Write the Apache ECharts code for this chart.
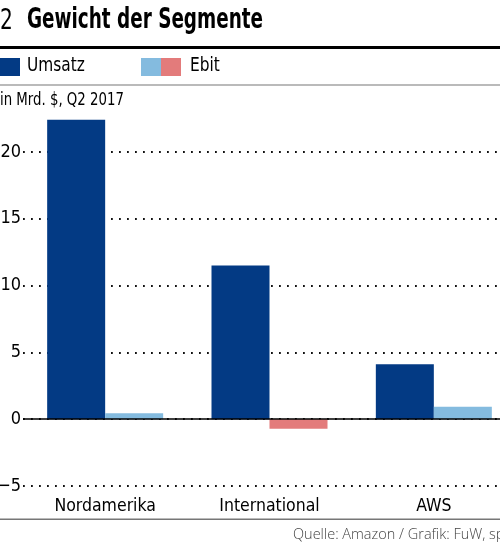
<!DOCTYPE html>
<html>
<head>
<meta charset="utf-8">
<script src="https://cdn.jsdelivr.net/npm/echarts@6/dist/echarts.min.js"></script>
<style>
    html, body { margin: 0; padding: 0; background: #fff; }
    #chart { width: 500px; height: 554px; }
</style>
</head>
<body>
<div id="chart"></div>
<script>
// Segmente, Q2 2017, in Mrd. $
var categories = ['Nordamerika', 'International', 'AWS'];
var umsatz = [22.4, 11.5, 4.1];
var ebit = [0.44, -0.72, 0.92];
var yTicks = [-5, 0, 5, 10, 15, 20];

var narrow = '"Liberation Sans Narrow", "DejaVu Sans Condensed", sans-serif';
var blue = '#033a84',
    lightBlue = '#84bbdf',
    red = '#e37b7b';

var chart = echarts.init(document.getElementById('chart'));

var ebitData = ebit.map(function (v) {
    return {
        value: v,
        itemStyle: { color: v < 0 ? red : lightBlue }
    };
});

chart.setOption({
    animation: false,
    grid: {
        left: 23,
        right: -16,
        top: 85,
        bottom: 68,
        containLabel: false,
        outerBoundsMode: 'none'
    },
    xAxis: {
        type: 'category',
        data: categories,
        axisLine: { show: false, onZero: false },
        axisTick: { show: false },
        axisLabel: {
            color: '#000',
            fontFamily: narrow,
            fontSize: 17.5,
            margin: 11
        }
    },
    yAxis: {
        type: 'value',
        min: yTicks[0],
        max: 25,
        interval: 5,
        axisLine: { show: false },
        axisTick: { show: false },
        axisLabel: {
            color: '#000',
            fontFamily: narrow,
            fontSize: 18,
            margin: 2,
            formatter: function (v) {
                if (yTicks.indexOf(v) < 0) return '';
                return String(v).replace('-', '\u2212');
            }
        },
        splitLine: {
            lineStyle: {
                color: '#111',
                width: 1.8,
                type: [1.8, 6.2]
            }
        }
    },
    series: [{
        name: 'Umsatz',
        type: 'bar',
        data: umsatz,
        barWidth: 58,
        barGap: '0%',
        itemStyle: { color: blue },
        markLine: {
            silent: true,
            symbol: 'none',
            label: { show: false },
            lineStyle: { color: '#000', type: 'solid', width: 1.5 },
            data: [{ yAxis: 0 }]
        }
    }, {
        name: 'Ebit',
        type: 'bar',
        data: ebitData,
        barWidth: 58,
        barGap: '0%'
    }],
    graphic: [
        // Titel
        {
            type: 'text', x: 0, y: 8, scaleX: 0.8,
            style: { text: '2', font: '28px ' + narrow, fill: '#000' }
        },
        {
            type: 'text', x: 27, y: 7, scaleX: 0.73,
            style: { text: 'Gewicht der Segmente', font: 'bold 28px ' + narrow, fill: '#000' }
        },
        {
            type: 'rect', shape: { x: 0, y: 46, width: 500, height: 3 },
            style: { fill: '#000' }
        },
        // Legende
        {
            type: 'rect', shape: { x: 0, y: 58, width: 20, height: 18 },
            style: { fill: blue }
        },
        {
            type: 'text', x: 27, y: 57, scaleX: 0.9,
            style: { text: 'Umsatz', font: '19px ' + narrow, fill: '#000' }
        },
        {
            type: 'rect', shape: { x: 141, y: 58, width: 20, height: 18 },
            style: { fill: lightBlue }
        },
        {
            type: 'rect', shape: { x: 161, y: 58, width: 20, height: 18 },
            style: { fill: red }
        },
        {
            type: 'text', x: 190, y: 57, scaleX: 0.9,
            style: { text: 'Ebit', font: '19px ' + narrow, fill: '#000' }
        },
        // deckt die Rasterlinie bei 25 ab
        {
            type: 'rect', z: 100, shape: { x: 0, y: 83, width: 500, height: 4 },
            style: { fill: '#fff' }
        },
        {
            type: 'rect', z: 101, shape: { x: 0, y: 84.5, width: 500, height: 1 },
            style: { fill: '#777' }
        },
        {
            type: 'text', x: 0, y: 92, scaleX: 0.87,
            style: { text: 'in Mrd. $, Q2 2017', font: '17px ' + narrow, fill: '#000' }
        },
        // Fuss
        {
            type: 'rect', shape: { x: 0, y: 518.5, width: 500, height: 1.5 },
            style: { fill: '#777' }
        },
        {
            type: 'text', x: 293, y: 527,
            style: { text: 'Quelle: Amazon / Grafik: FuW, sp', font: '300 14.5px "Open Sans", sans-serif', fill: '#444' }
        }
    ]
});
</script>
</body>
</html>
